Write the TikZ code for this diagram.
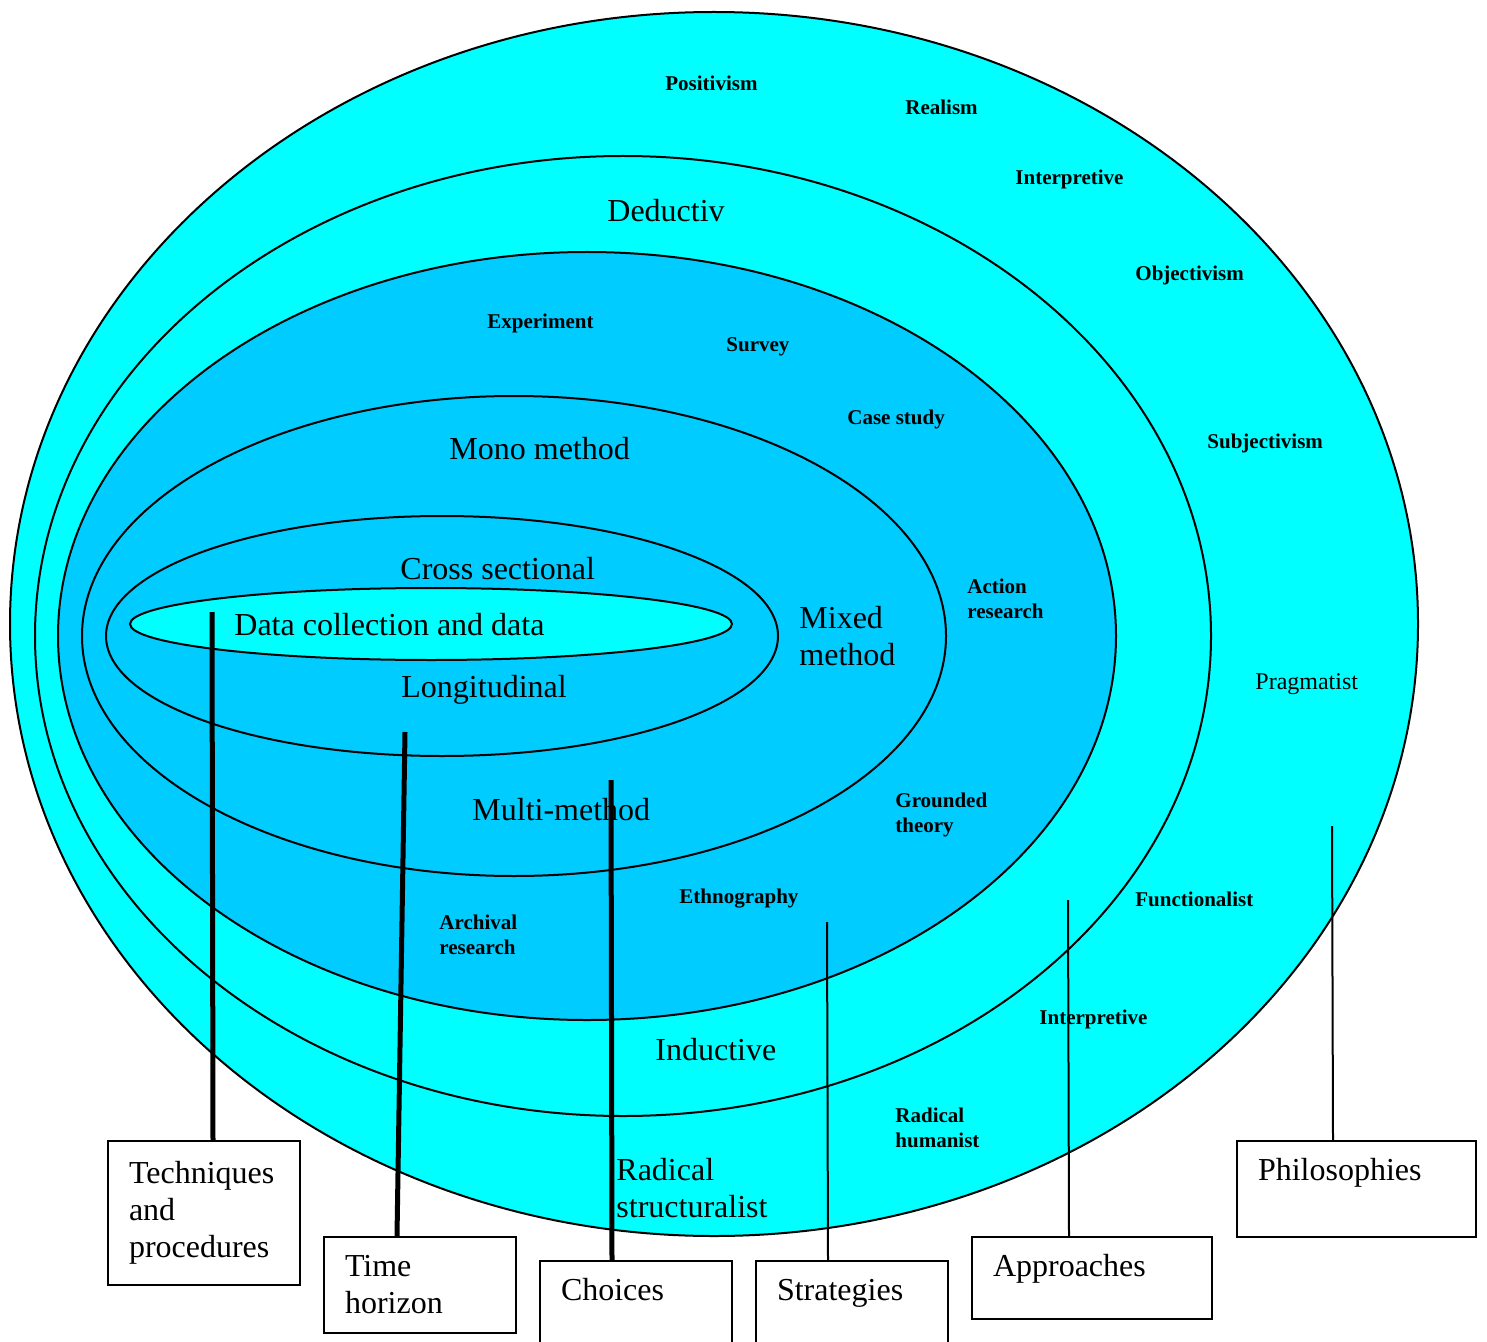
\documentclass[tikz,border=0pt]{standalone}
\usepackage{fontspec}
\setmainfont{Liberation Serif}
\usetikzlibrary{positioning}
\definecolor{aqua}{HTML}{00FFFF}
\definecolor{skyfill}{HTML}{00CCFF}

\begin{document}
\begin{tikzpicture}[
  x=0.5pt, y=-0.5pt,
  ring/.style = {draw=black, line width=1pt},
  big/.style = {font=\fontsize{16}{18.5}\selectfont, align=left, anchor=west, inner sep=0pt},
  small/.style = {font=\fontsize{10.5}{12.5}\selectfont\bfseries, align=left, anchor=west, inner sep=0pt},
  plain/.style = {font=\fontsize{12}{14}\selectfont, anchor=west, inner sep=0pt},
  layerbox/.style = {draw=black, fill=white, line width=1pt,
    font=\fontsize{16}{18.5}\selectfont, align=left, anchor=north west, inner xsep=10.5pt},
  heavy/.style = {line width=2.5pt},
  light/.style = {line width=1pt}
]
\useasboundingbox (0,0) rectangle (1487,1342);

% Layer 1: Philosophies (outer ring)
\draw[ring, fill=aqua] (714,624) ellipse [x radius=352pt, y radius=306pt];

% Layer 2: Approaches
\draw[ring, fill=aqua] (623,636) ellipse [x radius=294pt, y radius=240pt];
\node[big, anchor=north west] (dedu) at (607,199) {Deductiv\\[5pt]e};

% Layer 3: Strategies
\draw[ring, fill=skyfill] (587,636) ellipse [x radius=264.5pt, y radius=192pt];

% Layer 4: Choices
\draw[ring] (514,636) ellipse [x radius=216pt, y radius=120pt];

% Layer 5: Time horizon
\draw[ring] (442,636) ellipse [x radius=168pt, y radius=60pt];

% Layer 6: Data collection (core)
\draw[ring, fill=aqua] (431,624) ellipse [x radius=150.5pt, y radius=18pt];

% === LABELS ===
\node[small] (posi) at (665,83) {Positivism};
\node[small] (real) at (905,107) {Realism};
\node[small] (inta) at (1015,179) {Interpretive};
\node[small] (obje) at (1135,275) {Objectivism};
\node[small] (subj) at (1207,443) {Subjectivism};
\node[plain] (prag) at (1255,684) {Pragmatist};
\node[small] (func) at (1135,899) {Functionalist};
\node[small] (intb) at (1039,1019) {Interpretive};
\node[small] (radh) at (895,1128) {Radical\\humanist};
\node[big] (rads) at (616,1188) {Radical\\structuralist};

\node[big] (indu) at (655,1050) {Inductive};

\node[small] (expe) at (487,323) {Experiment};
\node[small] (surv) at (726,347) {Survey};
\node[small] (case) at (847,419) {Case study};
\node[small] (acti) at (967,599) {Action\\research};
\node[small] (grou) at (895,815) {Grounded\\theory};
\node[small] (ethn) at (679,899) {Ethnography};
\node[small] (arch) at (439,935) {Archival\\research};

\node[big] (mono) at (449,449) {Mono method};
\node[big] (mixe) at (799,636) {Mixed\\method};
\node[big] (mult) at (472,810) {Multi-method};

\node[big] (cros) at (400,569) {Cross sectional};
\node[big] (long) at (401,690) {Longitudinal};

\node[big] (data) at (234,625) {Data collection and data};

% === KEY BOXES ===
\node[layerbox, text width=75pt, minimum height=72pt] (tech) at (107,1140) {Techniques\\and\\procedures};
\node[layerbox, text width=75pt, minimum height=48pt] (time) at (323,1236) {Time\\horizon};
\node[layerbox, text width=75pt, inner ysep=0pt, text height=19.5pt, text depth=25.5pt] (choi) at (539,1260) {Choices};
\node[layerbox, text width=75pt, inner ysep=0pt, text height=19.5pt, text depth=25.5pt] (stra) at (755,1260) {Strategies};
\node[layerbox, text width=99pt, inner ysep=0pt, text height=19.5pt, text depth=21.5pt] (appr) at (971,1236) {Approaches};
\node[layerbox, text width=98.5pt, inner ysep=0pt, text height=19.5pt, text depth=28.5pt] (phil) at (1236,1140) {Philosophies};

% === POINTER LINES ===
\coordinate (ptech) at (212,612);
\coordinate (ptime) at (405,732);
\coordinate (pchoi) at (611,780);
\coordinate (pstra) at (827,922);
\coordinate (pappr) at (1068,900);
\coordinate (pphil) at (1332,826);

\draw[heavy] (ptech) -- ([xshift=4.5pt]tech.north);
\draw[heavy] (ptime) -- ([xshift=-11.5pt]time.north);
\draw[heavy] (pchoi) -- ([xshift=-12pt]choi.north);
\draw[light] (pstra) -- ([xshift=-12pt]stra.north);
\draw[light] (pappr) -- ([xshift=-11.5pt]appr.north);
\draw[light] (pphil) -- ([xshift=-11.75pt]phil.north);

\end{tikzpicture}
\end{document}
